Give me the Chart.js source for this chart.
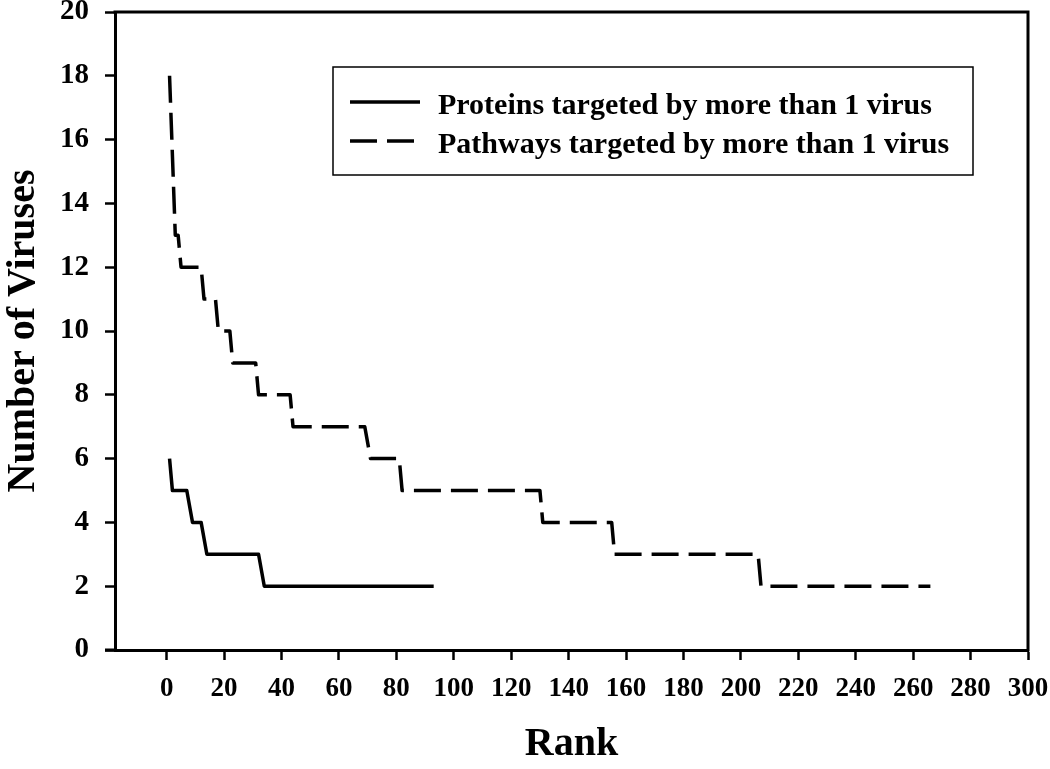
<!DOCTYPE html>
<html>
<head>
<meta charset="utf-8">
<script src="https://cdn.jsdelivr.net/npm/chart.js@4/dist/chart.umd.min.js"></script>
<style>
  html, body { margin: 0; padding: 0; background: #fff; }
</style>
</head>
<body>
<canvas id="chart" width="1050" height="769"></canvas>
<script>
// data (rank where the count changes)
var proteinRank    = [1, 2, 7, 9, 12, 14, 32, 34, 93];
var proteinViruses = [6, 5, 5, 4, 4, 3, 3, 2, 2];

var pathwayRank    = [1, 3, 4, 5, 12, 13, 17, 18, 22, 23, 31, 32, 43, 44, 69, 71, 81, 82, 130, 131, 155, 156, 206, 207, 266];
var pathwayViruses = [18, 13, 13, 12, 12, 11, 11, 10, 10, 9, 9, 8, 8, 7, 7, 6, 6, 5, 5, 4, 4, 3, 3, 2, 2];

var seriesNames = ["Proteins targeted by more than 1 virus", "Pathways targeted by more than 1 virus"];

var FONT = "'Liberation Serif', 'Times New Roman', serif";

function toPoints(xs, ys) {
  return xs.map(function(x, i) { return {x: x, y: ys[i]}; });
}

// top and right edges of the plot box
var framePlugin = {
  id: 'frame',
  afterDraw: function(chart) {
    var ctx = chart.ctx, a = chart.chartArea;
    ctx.save();
    ctx.strokeStyle = '#000';
    ctx.lineWidth = 3;
    ctx.beginPath();
    ctx.moveTo(a.left - 1.5, a.top);
    ctx.lineTo(a.right, a.top);
    ctx.lineTo(a.right, a.bottom + 1.5);
    ctx.moveTo(a.left - 10, a.bottom);
    ctx.lineTo(a.left, a.bottom);
    ctx.stroke();
    ctx.restore();
  }
};

// boxed legend inside the plot
var boxLegend = {
  id: 'boxLegend',
  afterDatasetsDraw: function(chart) {
    var ctx = chart.ctx, a = chart.chartArea;
    var x0 = a.left + 218, y0 = a.top + 55, w = 640, h = 108;
    ctx.save();
    ctx.strokeStyle = '#000';
    ctx.lineWidth = 1.5;
    ctx.strokeRect(x0, y0, w, h);
    chart.data.datasets.forEach(function(ds, i) {
      var y = y0 + 35 + i * 39;
      ctx.beginPath();
      ctx.setLineDash(ds.borderDash || []);
      ctx.lineWidth = ds.borderWidth;
      ctx.moveTo(x0 + 17, y);
      ctx.lineTo(x0 + 87, y);
      ctx.stroke();
      ctx.setLineDash([]);
      ctx.fillStyle = '#000';
      ctx.font = 'bold 30px ' + FONT;
      ctx.textBaseline = 'alphabetic';
      ctx.fillText(ds.label, x0 + 105, y + 12);
    });
    ctx.restore();
  }
};

var config = {
  type: 'line',
  data: {
    datasets: [{
      label: seriesNames[0],
      data: toPoints(proteinRank, proteinViruses),
      borderColor: '#000',
      borderWidth: 3.5,
      pointRadius: 0,
      tension: 0,
      borderJoinStyle: 'round'
    }, {
      label: seriesNames[1],
      data: toPoints(pathwayRank, pathwayViruses),
      borderColor: '#000',
      borderWidth: 3.5,
      borderDash: [27, 10],
      pointRadius: 0,
      tension: 0,
      borderJoinStyle: 'round'
    }]
  },
  options: {
    responsive: false,
    animation: false,
    layout: { padding: { top: 12, right: 22, left: 0, bottom: 0 } },
    plugins: {
      legend: { display: false },
      tooltip: { enabled: false }
    },
    scales: {
      x: {
        type: 'linear',
        min: -18,
        max: 300,
        afterBuildTicks: function(s) {
          s.ticks = s.ticks.filter(function(t) { return t.value >= 0; });
        },
        afterFit: function(s) {
          s.height = 119;
          s.paddingLeft = 0;
          s.paddingRight = 0;
        },
        ticks: {
          stepSize: 20,
          includeBounds: false,
          autoSkip: false,
          maxRotation: 0,
          padding: 13,
          color: '#000',
          font: { family: FONT, size: 27, weight: 'bold' }
        },
        grid: {
          drawOnChartArea: false,
          drawTicks: true,
          tickLength: 10,
          tickWidth: 2.5,
          tickColor: '#000'
        },
        border: { display: true, color: '#000', width: 3 },
        title: {
          display: true,
          text: 'Rank',
          color: '#000',
          padding: 0,
          font: { family: FONT, size: 40, weight: 'bold' }
        }
      },
      y: {
        min: 0,
        max: 20,
        afterFit: function(s) {
          s.width = 115;
          s.paddingTop = 0;
          s.paddingBottom = 0;
        },
        ticks: {
          stepSize: 2,
          padding: 16,
          color: '#000',
          font: { family: FONT, size: 29, weight: 'bold' }
        },
        grid: {
          drawOnChartArea: false,
          drawTicks: true,
          tickLength: 10,
          tickWidth: 2.5,
          tickColor: '#000'
        },
        border: { display: true, color: '#000', width: 3 },
        title: {
          display: true,
          text: 'Number of Viruses',
          color: '#000',
          padding: 0,
          font: { family: FONT, size: 40, weight: 'bold' }
        }
      }
    }
  },
  plugins: [framePlugin, boxLegend]
};

var ctx = document.getElementById('chart').getContext('2d');
var myChart = new Chart(ctx, config);
</script>
</body>
</html>
